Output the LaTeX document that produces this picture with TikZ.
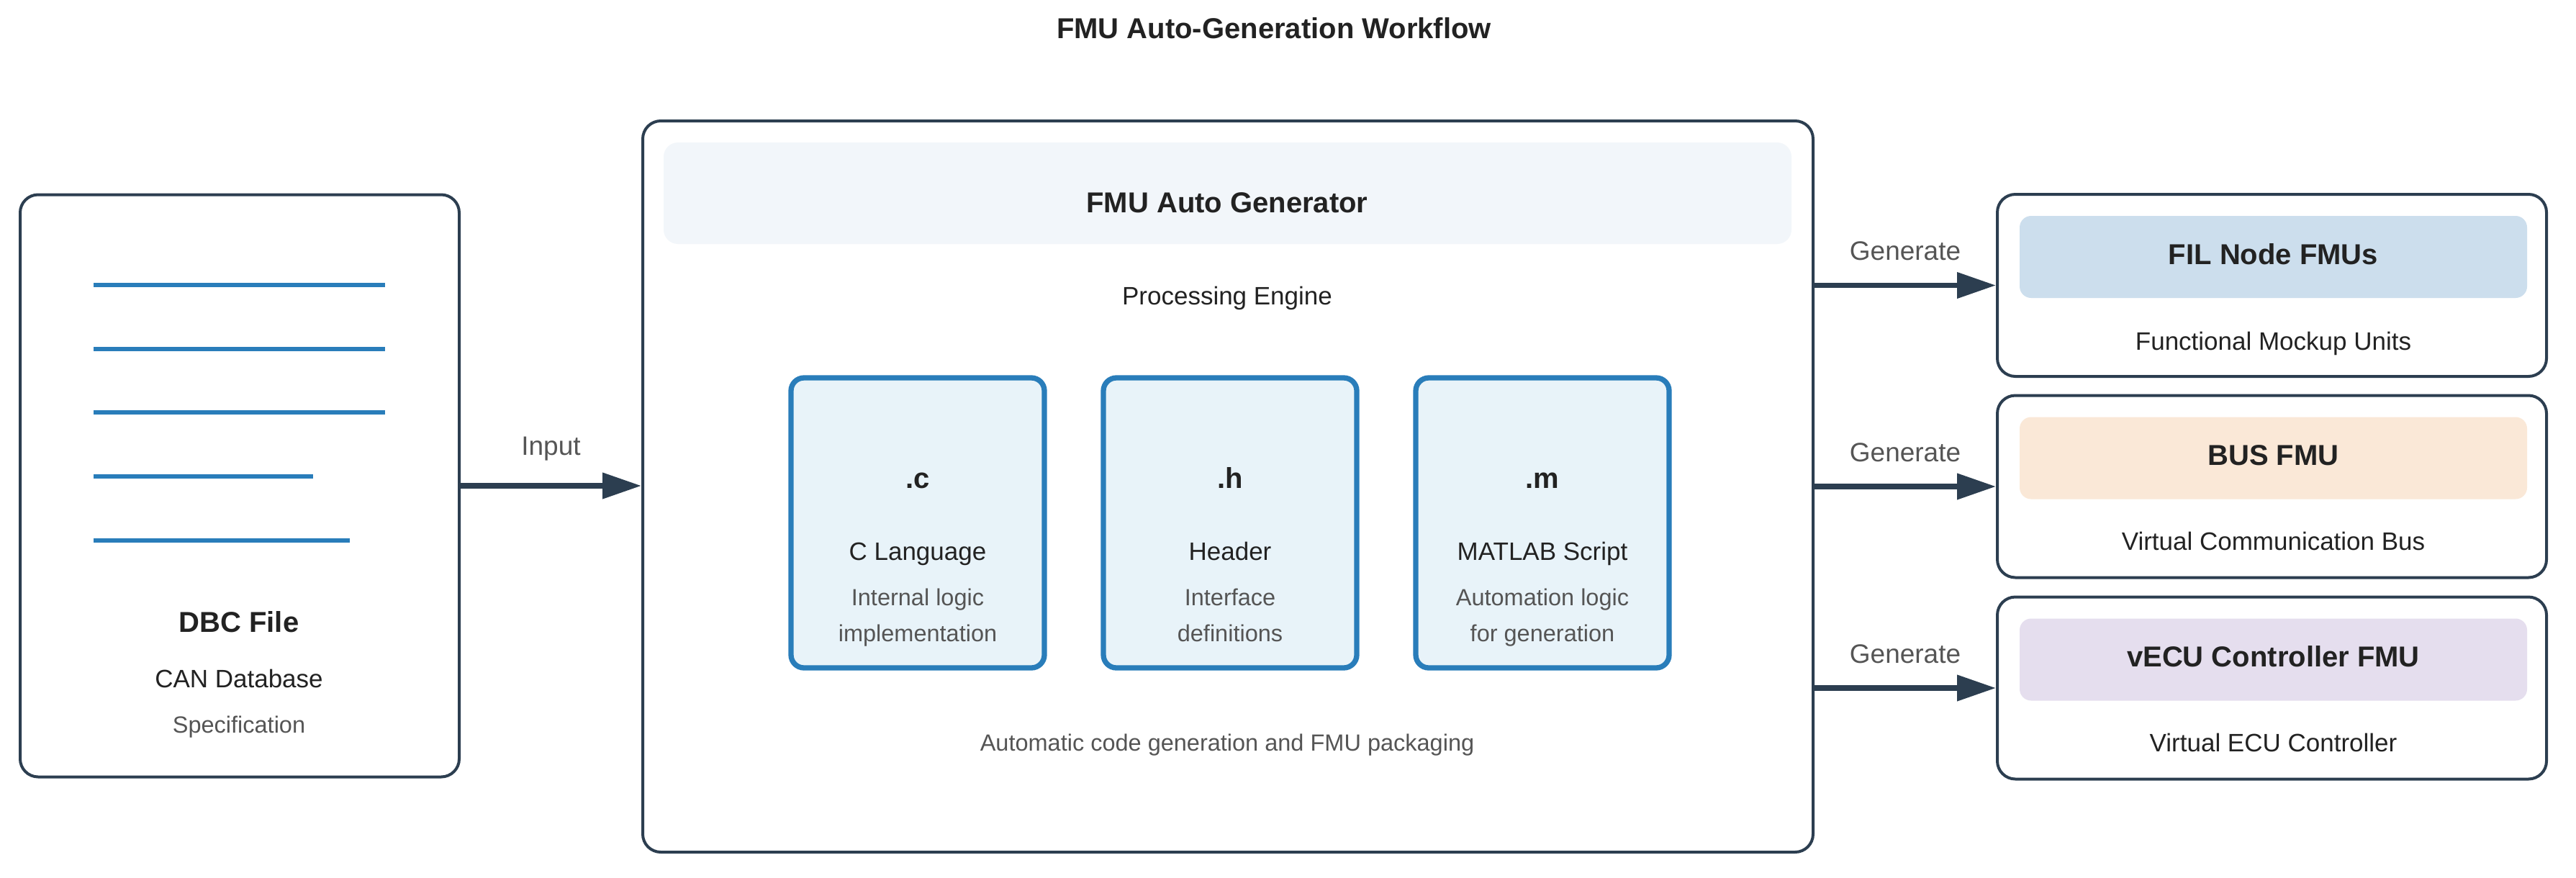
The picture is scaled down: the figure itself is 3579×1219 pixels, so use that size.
\documentclass[tikz,border=0pt]{standalone}
\usepackage{fontspec}
\setmainfont{Liberation Sans}
\usetikzlibrary{arrows.meta}
\definecolor{dark}{HTML}{2C3E50}
\definecolor{blueline}{HTML}{297DBA}
\definecolor{innerfill}{HTML}{E8F3F9}
\definecolor{headfill}{HTML}{F2F6FA}
\definecolor{fillA}{HTML}{CCDEED}
\definecolor{fillB}{HTML}{FAE8D7}
\definecolor{fillC}{HTML}{E5DEEE}
\definecolor{txtdark}{HTML}{222222}
\definecolor{txtgray}{HTML}{555555}
\begin{document}
\begin{tikzpicture}[x=1pt,y=-1pt,
  box/.style={draw=dark, line width=4pt, rounded corners=25pt, fill=white, inner sep=0pt},
  filebox/.style={draw=blueline, line width=7.3pt, rounded corners=18pt, fill=innerfill, inner sep=0pt, minimum width=352pt, minimum height=403pt},
  band/.style={draw=none, rounded corners=16pt, inner sep=0pt, minimum width=705pt, minimum height=114pt},
  boldtxt/.style={inner sep=0pt, font=\fontsize{40}{48}\selectfont\bfseries, text=txtdark, text height=29pt, text depth=0pt},
  regtxt/.style={inner sep=0pt, font=\fontsize{35}{42}\selectfont, text=txtdark, text height=25.2pt, text depth=0pt},
  graytxt/.style={inner sep=0pt, font=\fontsize{32.5}{39}\selectfont, text=txtgray, text height=23.4pt, text depth=0pt},
  edgetxt/.style={inner sep=0pt, font=\fontsize{37}{44}\selectfont, text=txtgray, text height=26.6pt, text depth=0pt},
  arr/.style={draw=dark, line width=7.3pt, -{Triangle[length=54pt,width=35pt]}},
  docline/.style={draw=blueline, line width=6.5pt}
]
\useasboundingbox[fill=white] (0,0) rectangle (3579,1219);

% title
\node[boldtxt] (title) at (1770,39) {FMU Auto-Generation Workflow};

% DBC file
\node[box, minimum width=610pt, minimum height=809pt] (dbc) at (333,675) {};
\draw[docline] (130,396) -- (535,396);
\draw[docline] (130,485) -- (535,485);
\draw[docline] (130,573) -- (535,573);
\draw[docline] (130,662) -- (435,662);
\draw[docline] (130,751) -- (486,751);
\node[boldtxt] (dbct) at (332,864) {DBC File};
\node[regtxt] (dbcs) at (332,943) {CAN Database};
\node[graytxt] (dbcg) at (332,1007) {Specification};

% generator
\node[box, minimum width=1626pt, minimum height=1016pt] (gen) at (1706,676) {};
\node[draw=none, fill=headfill, rounded corners=20pt, minimum width=1567pt, minimum height=141pt, inner sep=0pt] (head) at (1705.5,268.5) {};
\node[boldtxt] (gent) at (1705,281) {FMU Auto Generator};
\node[regtxt] (gens) at (1705,411) {Processing Engine};

\node[filebox] (fc) at (1275,726.5) {};
\node[filebox] (fh) at (1709,726.5) {};
\node[filebox] (fm) at (2143,726.5) {};
\foreach \n/\x/\e/\l/\a/\b in {c/1275/.c/C Language/Internal logic/implementation,
                               h/1709/.h/Header/Interface/definitions,
                               m/2143/.m/MATLAB Script/Automation logic/for generation}{
  \node[boldtxt] (e\n) at (\x,664) {\e};
  \node[regtxt] (l\n) at (\x,766) {\l};
  \node[graytxt] (a\n) at (\x,830) {\a};
  \node[graytxt] (b\n) at (\x,880) {\b};
}
\node[graytxt] (gennote) at (1705,1032) {Automatic code generation and FMU packaging};

% outputs
\node[box, minimum width=763pt, minimum height=253pt] (oa) at (3156.5,396.5) {};
\node[band, fill=fillA] (ba) at (3158.5,357) {};
\node[boldtxt] (ta) at (3158.5,353) {FIL Node FMUs};
\node[regtxt] (sa) at (3158.5,474) {Functional Mockup Units};

\node[box, minimum width=763pt, minimum height=253pt] (ob) at (3156.5,676) {};
\node[band, fill=fillB] (bb) at (3158.5,636.5) {};
\node[boldtxt] (tb) at (3158.5,632) {BUS FMU};
\node[regtxt] (sb) at (3158.5,752) {Virtual Communication Bus};

\node[box, minimum width=763pt, minimum height=253pt] (oc) at (3156.5,956) {};
\node[band, fill=fillC] (bc) at (3158.5,916.5) {};
\node[boldtxt] (tc) at (3158.5,912) {vECU Controller FMU};
\node[regtxt] (sc) at (3158.5,1032) {Virtual ECU Controller};

% connectors
\draw[arr] (dbc.east) -- node[midway, above=39pt, edgetxt] {Input} (dbc.east -| gen.west);
\draw[arr] (oa.west -| gen.east) -- node[midway, above=31pt, edgetxt] {Generate} (oa.west);
\draw[arr] (ob.west -| gen.east) -- node[midway, above=31pt, edgetxt] {Generate} (ob.west);
\draw[arr] (oc.west -| gen.east) -- node[midway, above=31pt, edgetxt] {Generate} (oc.west);
\end{tikzpicture}
\end{document}
